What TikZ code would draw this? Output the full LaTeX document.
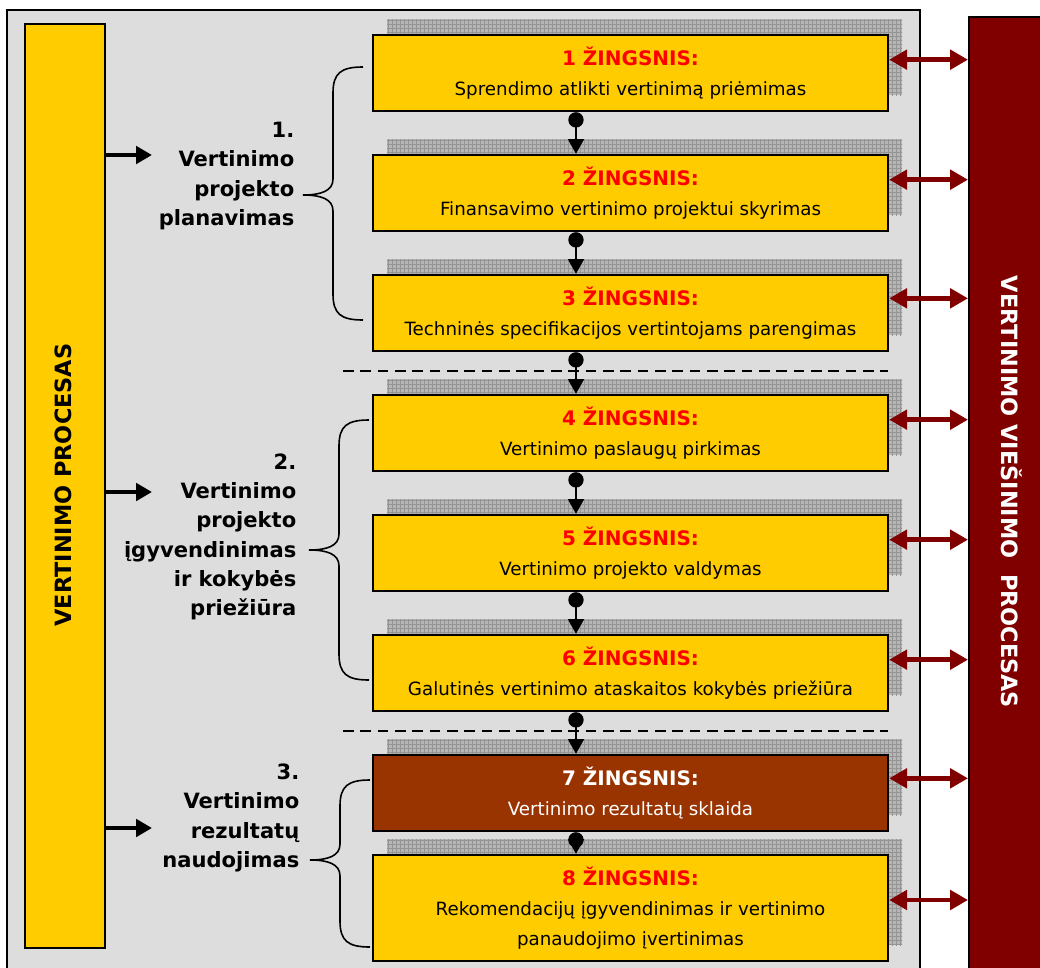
\documentclass[tikz,border=0pt]{standalone}
\usepackage{fontspec}
\setmainfont{DejaVu Sans}
\usetikzlibrary{arrows.meta,calc}

\definecolor{stepyellow}{HTML}{FFCC00}
\definecolor{stepred}{HTML}{FF0000}
\definecolor{stepbrown}{HTML}{993300}
\definecolor{pubred}{HTML}{800000}
\definecolor{bggray}{HTML}{DDDDDD}
\definecolor{shadowgray}{HTML}{B6B6B6}
\definecolor{shadowline}{HTML}{949494}

\newcommand{\steptitlefont}{\bfseries\fontsize{15}{22.5}\selectfont}

% brace: spine x, top y, tip y, bottom y
\newcommand{\curlybr}[4]{%
  \draw[bracestyle] (#1+30,#2) .. controls (#1+8,#2) and (#1,#2+6) .. (#1,#2+26)
    -- (#1,#3-16) .. controls (#1,#3-4) and (#1-12,#3) .. (#1-30,#3)
    .. controls (#1-12,#3) and (#1,#3+4) .. (#1,#3+16)
    -- (#1,#4-26) .. controls (#1,#4-6) and (#1+8,#4) .. (#1+30,#4);}

\begin{document}
\begin{tikzpicture}[x=0.75pt, y=-0.75pt,
  stepbox/.style={draw=black, line width=1.8pt, minimum width=386.25pt, inner sep=2pt,
    align=center, font=\fontsize{13.7}{22.5}\selectfont},
  stepconn/.style={line width=1.1pt, {Circle[length=11.5pt]}-{Triangle[length=11pt,width=12pt]}},
  pubarrow/.style={draw=pubred, line width=3.6pt,
    {Triangle[length=13.5pt,width=14.5pt]}-{Triangle[length=13.5pt,width=14.5pt]}},
  grparrow/.style={line width=3pt, -{Triangle[length=12pt,width=13pt]}},
  sepline/.style={line width=1.8pt, dash pattern=on 8pt off 5pt},
  bracestyle/.style={line width=1.2pt},
  grplabel/.style={anchor=east, align=right, font=\bfseries\fontsize{15.8}{22}\selectfont},
  sidetext/.style={font=\bfseries\fontsize{16.8}{18}\selectfont}]
\useasboundingbox (0,0) rectangle (1040,968);
\clip (0,0) rectangle (1040,968);

% frames
\draw[fill=bggray, line width=1.5pt] (7,10) rectangle (920,990);
\node[draw=black, line width=1.8pt, fill=stepyellow, minimum width=60pt, minimum height=693pt,
  inner sep=0pt] (procbox) at (65,486) {};
\node[draw=black, line width=1.8pt, fill=pubred, minimum width=60pt, minimum height=740pt,
  inner sep=0pt, anchor=north west] (pubbox) at (968,16) {};
\node[sidetext, rotate=90] (proctxt) at (63,485) {VERTINIMO PROCESAS};
\node[sidetext, rotate=-90, text=white] (pubtxt) at (1012,492) {VERTINIMO VIEŠINIMO\ \ PROCESAS};

% steps with shadows
\foreach \i/\y/\h/\fc/\tc/\bc/\txt in {
  1/73/76/stepyellow/stepred/black/{Sprendimo atlikti vertinimą priėmimas},
  2/193/76/stepyellow/stepred/black/{Finansavimo vertinimo projektui skyrimas},
  3/313/76/stepyellow/stepred/black/{Techninės specifikacijos vertintojams parengimas},
  4/433/76/stepyellow/stepred/black/{Vertinimo paslaugų pirkimas},
  5/553/76/stepyellow/stepred/black/{Vertinimo projekto valdymas},
  6/673/76/stepyellow/stepred/black/{Galutinės vertinimo ataskaitos kokybės priežiūra},
  7/793/76/stepbrown/white/white/{Vertinimo rezultatų sklaida},
  8/908/106/stepyellow/stepred/black/{Rekomendacijų įgyvendinimas ir vertinimo\\panaudojimo įvertinimas}}
{
  \fill[shadowgray] (387,\y-\h/2-16) rectangle (902,\y+\h/2-16);
  \begin{scope}
    \clip (387,\y-\h/2-16) rectangle (902,\y+\h/2-16);
    \draw[shadowline, line width=0.4pt, step=3pt] (380,\y-\h/2-20) grid (910,\y+\h/2-10);
  \end{scope}
  \node[stepbox, fill=\fc, text=\bc, minimum height=\h*0.75pt] (s\i) at (630.5,\y)
    {{\color{\tc}\steptitlefont \i\ ŽINGSNIS:}\\\txt};
}

% step connectors
\foreach \i [evaluate=\i as \j using int(\i+1)] in {1,...,7}
  \draw[stepconn] ([xshift=-40.9pt]s\i.south) -- ([xshift=-40.9pt]s\j.north);

% phase separators
\draw[sepline] (343,371) -- (888,371);
\draw[sepline] (343,731) -- (888,731);

% links to the publicity process
\foreach \i/\d in {1/10,2/10,3/11,4/10,5/10,6/10,7/11,8/6}
  \draw[pubarrow] ([yshift=\d pt]s\i.east) -- ([yshift=\d pt]s\i.east -| pubbox.west);

% phases
\coordinate (g1) at (152,155);
\coordinate (g2) at (152,492);
\coordinate (g3) at (152,828);
\foreach \g in {g1,g2,g3}
  \draw[grparrow] (procbox.east |- \g) -- (\g);

\curlybr{333}{67}{195}{320}
\curlybr{339}{420}{550}{680}
\curlybr{340}{780}{860}{947}

\node[grplabel] (lbl1) at (299,176) {1.\\Vertinimo\\projekto\\planavimas};
\node[grplabel] (lbl2) at (301,537) {2.\\Vertinimo\\projekto\\įgyvendinimas\\ir kokybės\\priežiūra};
\node[grplabel] (lbl3) at (304,818) {3.\\Vertinimo\\rezultatų\\naudojimas};
\end{tikzpicture}
\end{document}
